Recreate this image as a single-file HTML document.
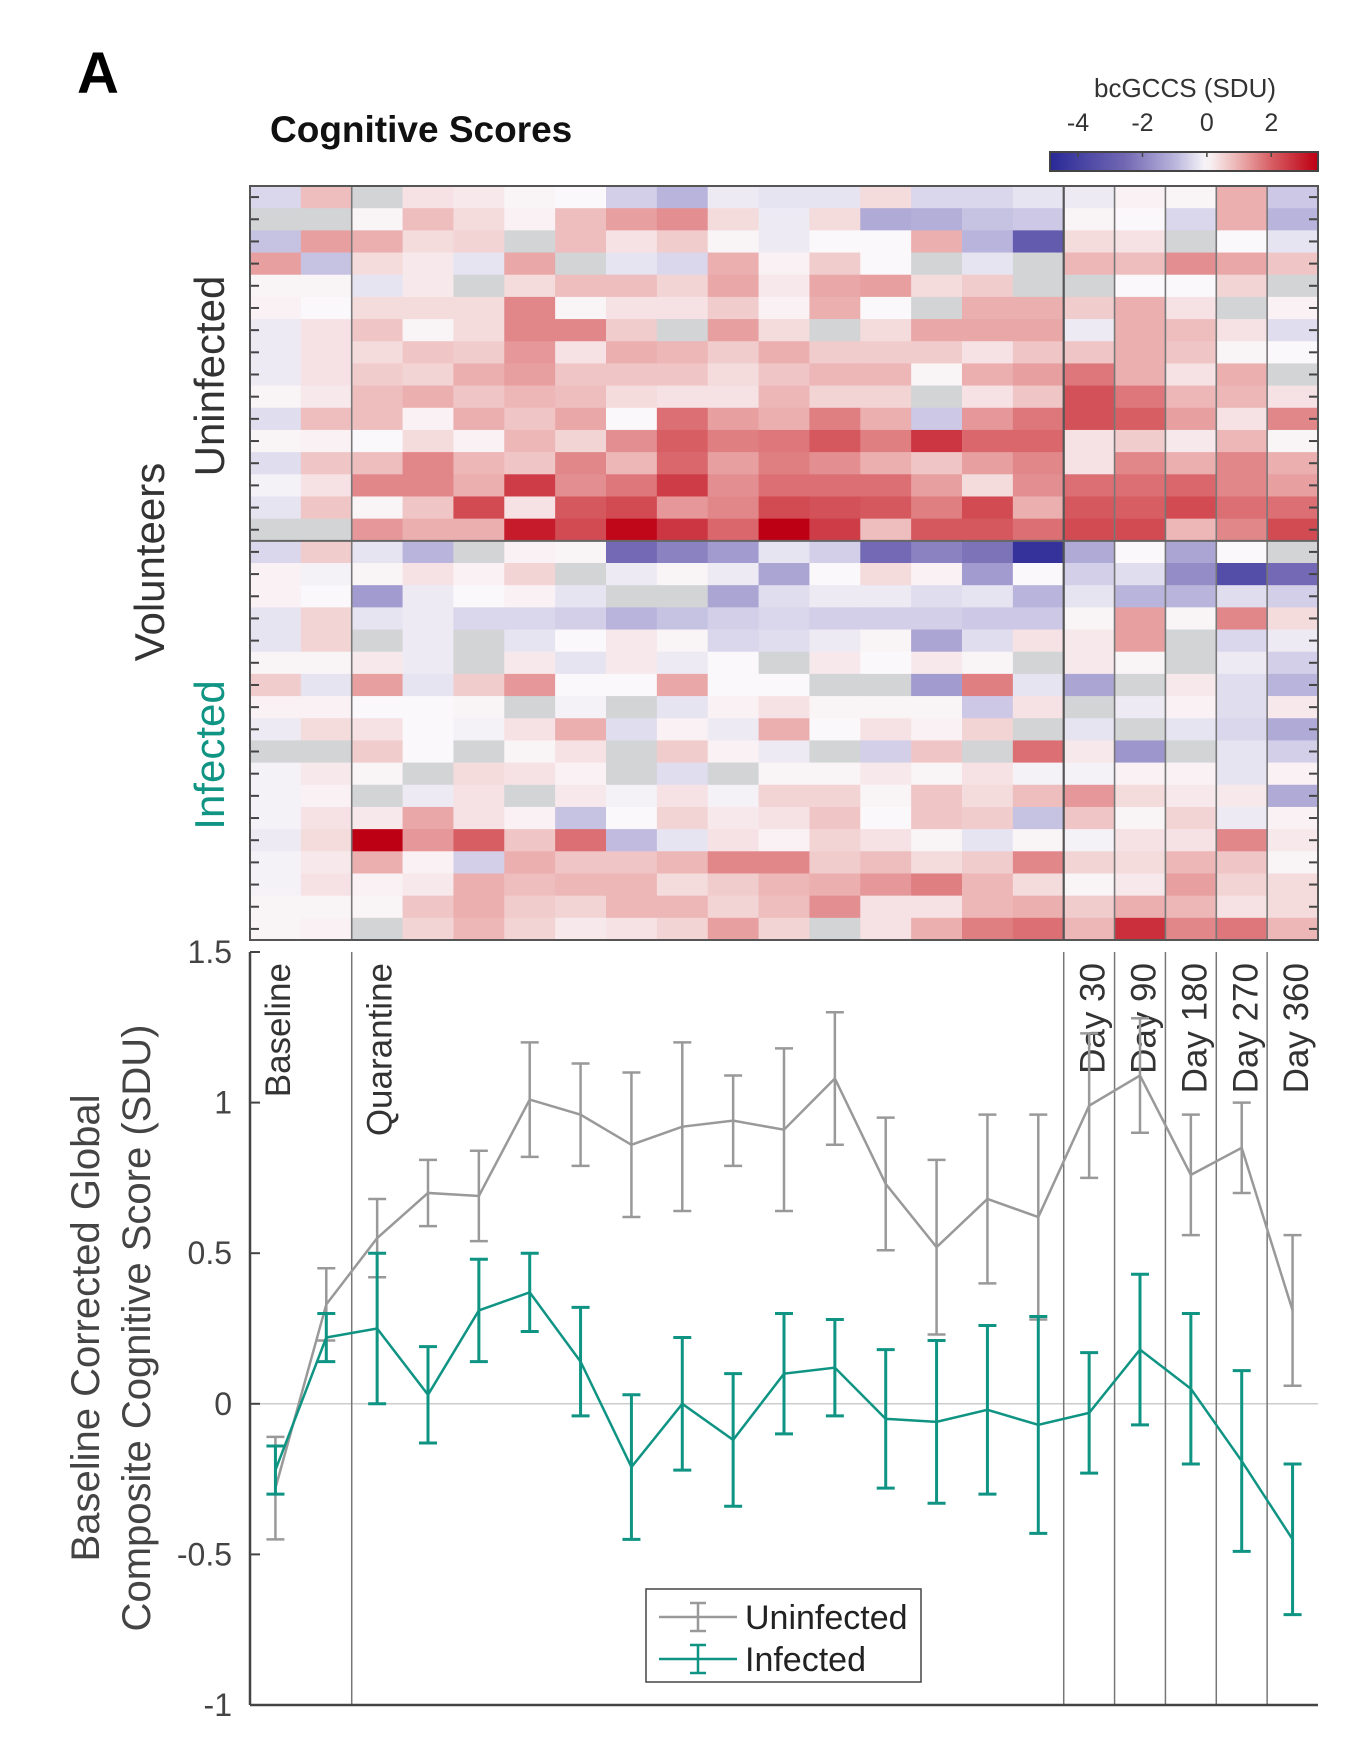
<!DOCTYPE html>
<html><head><meta charset="utf-8"><style>
html,body{margin:0;padding:0;background:#fff;}
svg{display:block;font-family:"Liberation Sans",sans-serif;}
</style></head><body>
<svg id="fig" width="1356" height="1762" viewBox="0 0 1356 1762" xmlns="http://www.w3.org/2000/svg">
<text x="77" y="93" font-size="58" font-weight="bold" fill="#000">A</text>
<text x="270" y="142" font-size="37" font-weight="bold" fill="#111">Cognitive Scores</text>
<text x="1185" y="97" font-size="26" fill="#333" text-anchor="middle">bcGCCS (SDU)</text>
<g id="cbar"></g>
<g id="heat"></g>
<g id="plot"></g>
<text transform="translate(164,562) rotate(-90)" font-size="42" fill="#333" text-anchor="middle">Volunteers</text>
<text transform="translate(224,376) rotate(-90)" font-size="42" fill="#333" text-anchor="middle">Uninfected</text>
<text transform="translate(224,755) rotate(-90)" font-size="42" fill="#109483" text-anchor="middle">Infected</text>
<text transform="translate(99,1328) rotate(-90)" font-size="40" fill="#444" text-anchor="middle">Baseline Corrected Global</text>
<text transform="translate(150,1328) rotate(-90)" font-size="40" fill="#444" text-anchor="middle">Composite Cognitive Score (SDU)</text>
</svg>
<script>
const heatUninf = [
[-0.5,0.8,null,0.3,0.2,0.05,0.0,-0.6,-1.0,-0.2,-0.3,-0.3,0.4,-0.5,-0.5,-0.3,-0.2,0.1,0.05,1.0,-0.7],
[null,null,0.05,0.8,0.4,0.1,0.8,1.2,1.4,0.4,-0.2,0.4,-1.2,-1.1,-0.8,-0.7,0.05,0.0,-0.5,1.0,-1.0],
[-0.8,1.2,1.0,0.4,0.5,null,0.8,0.3,0.6,0.05,-0.2,0.0,0.0,1.0,-1.0,-3.0,0.4,0.3,null,0.0,-0.3],
[1.2,-0.8,0.4,0.2,-0.3,1.1,null,-0.3,-0.5,1.0,0.1,0.6,0.0,null,-0.3,null,0.9,0.8,1.4,1.1,0.7],
[0.05,0.05,-0.3,0.2,null,0.4,0.8,0.8,0.5,1.1,0.2,1.1,1.2,0.4,0.6,null,null,0.0,0.0,0.5,null],
[0.1,0.0,0.4,0.4,0.4,1.5,0.05,0.3,0.3,0.6,0.1,1.0,0.0,null,1.0,1.0,0.6,1.0,0.3,null,0.1],
[-0.2,0.3,0.7,0.05,0.4,1.5,1.5,0.6,null,1.2,0.4,null,0.4,1.1,1.1,1.1,-0.2,1.0,0.8,0.3,-0.4],
[-0.2,0.3,0.4,0.7,0.6,1.3,0.3,1.0,0.9,0.6,1.0,0.6,0.6,0.6,0.3,0.7,0.7,1.0,0.7,0.05,0.0],
[-0.2,0.3,0.6,0.5,1.0,1.2,0.7,0.7,0.7,0.4,0.7,0.9,0.9,0.05,1.0,1.2,1.7,1.0,0.3,1.0,null],
[0.05,0.2,0.8,1.0,0.7,0.9,0.8,0.4,0.3,0.3,0.9,0.5,0.5,null,0.3,0.7,2.2,1.7,0.9,0.9,0.3],
[-0.4,0.8,0.8,0.1,1.0,0.7,1.1,0.0,1.8,1.2,1.0,1.6,1.0,-0.7,1.3,1.7,2.2,2.0,1.2,0.3,1.5],
[0.05,0.1,0.0,0.4,0.1,0.9,0.5,1.4,2.0,1.6,1.7,2.1,1.6,2.6,1.9,1.9,0.3,0.6,0.2,0.9,0.05],
[-0.4,0.7,0.8,1.5,0.9,0.7,1.5,0.9,1.9,1.2,1.6,1.4,1.0,0.7,1.2,1.5,0.3,1.5,1.0,1.5,1.0],
[-0.1,0.3,1.5,1.5,1.0,2.5,1.4,1.7,2.5,1.4,1.8,1.8,1.8,1.2,0.4,1.4,1.8,1.8,1.9,1.5,1.2],
[-0.3,0.7,0.05,0.7,2.3,0.3,2.1,2.3,1.3,1.5,2.3,2.2,2.1,1.6,2.3,1.0,2.1,2.0,2.3,1.8,1.8],
[null,null,1.3,1.0,1.0,3.0,2.3,3.3,2.6,1.9,3.4,2.5,0.8,2.1,2.1,1.8,2.3,2.3,0.9,1.5,2.3]
];
const heatInf = [
[-0.5,0.6,-0.3,-1.0,null,0.1,0.05,-2.5,-2.0,-1.5,-0.3,-0.6,-2.5,-2.0,-2.3,-4.5,-1.2,0.0,-1.3,0.0,null],
[0.1,-0.1,0.05,0.3,0.1,0.5,null,-0.2,0.05,-0.2,-1.3,0.0,0.4,0.1,-1.5,0.0,-0.6,-0.4,-1.8,-3.5,-2.5],
[0.1,0.0,-1.5,-0.2,0.0,0.1,-0.3,null,null,-1.3,-0.4,-0.2,-0.2,-0.4,-0.3,-1.0,-0.3,-1.0,-1.0,-0.4,-0.6],
[-0.3,0.5,-0.3,-0.2,-0.5,-0.5,-0.6,-1.0,-0.8,-0.6,-0.5,-0.6,-0.6,-0.6,-0.7,-0.7,0.05,1.2,0.05,1.5,0.4],
[-0.3,0.5,null,-0.2,null,-0.3,0.0,0.2,0.05,-0.5,-0.4,-0.2,0.05,-1.3,-0.4,0.3,0.2,1.2,null,-0.5,-0.2],
[0.05,0.05,0.2,-0.2,null,0.2,-0.3,0.2,-0.2,0.0,null,0.2,0.0,0.2,0.05,null,0.2,0.05,null,-0.2,-0.6],
[0.6,-0.3,1.2,-0.3,0.6,1.3,0.0,0.0,1.1,0.0,0.0,null,null,-1.5,1.6,-0.3,-1.3,null,0.2,-0.4,-1.0],
[0.1,0.1,0.0,0.0,0.05,null,-0.1,null,-0.3,0.1,0.3,0.05,0.05,0.05,-0.7,0.3,null,-0.2,0.1,-0.4,0.2],
[-0.2,0.4,0.3,0.0,-0.1,0.3,1.0,-0.4,0.1,-0.2,1.0,0.0,0.3,0.1,0.5,null,-0.3,null,-0.3,-0.5,-1.2],
[null,null,0.6,0.0,null,0.05,0.3,null,0.6,0.1,-0.2,null,-0.6,0.7,null,1.8,0.2,-1.6,null,-0.3,-0.6],
[-0.1,0.2,0.05,null,0.4,0.3,0.1,null,-0.4,null,0.05,0.05,0.2,0.05,0.3,-0.1,-0.1,0.1,0.1,-0.3,0.1],
[-0.1,0.1,null,-0.2,0.3,null,0.2,-0.1,0.3,-0.1,0.5,0.5,0.05,0.7,0.4,0.8,1.3,0.4,0.2,0.2,-1.2],
[-0.1,0.3,0.2,1.1,0.3,0.1,-0.8,0.0,0.5,0.2,0.3,0.7,0.0,0.7,0.6,-0.8,0.7,0.05,0.5,-0.2,0.1],
[-0.2,0.4,3.4,1.3,2.0,0.7,1.8,-0.9,-0.3,0.3,0.1,0.5,0.3,0.05,-0.3,0.05,-0.1,0.3,0.3,1.5,0.2],
[-0.1,0.2,1.0,0.1,-0.6,1.0,0.7,0.7,0.9,1.5,1.5,0.6,0.8,0.4,0.6,1.5,0.5,0.4,0.9,0.7,0.05],
[-0.1,0.3,0.1,0.2,1.0,0.8,0.9,0.9,0.4,0.6,0.9,1.0,1.3,1.6,0.9,0.4,0.05,0.2,1.2,0.5,0.4],
[0.05,0.05,0.05,0.7,1.0,0.6,0.5,0.9,0.9,0.5,0.8,1.4,0.3,0.3,0.9,1.0,0.6,1.0,0.9,0.3,0.4],
[0.05,0.1,null,0.5,0.9,0.5,0.2,0.3,0.5,1.2,0.5,null,0.3,1.0,1.6,1.8,0.9,2.7,1.5,1.7,0.9]
];
const uninfMean = [-0.28,0.33,0.55,0.70,0.69,1.01,0.96,0.86,0.92,0.94,0.91,1.08,0.73,0.52,0.68,0.62,0.99,1.09,0.76,0.85,0.31];
const uninfErr  = [0.17,0.12,0.13,0.11,0.15,0.19,0.17,0.24,0.28,0.15,0.27,0.22,0.22,0.29,0.28,0.34,0.24,0.19,0.20,0.15,0.25];
const infMean = [-0.22,0.22,0.25,0.03,0.31,0.37,0.14,-0.21,0.0,-0.12,0.10,0.12,-0.05,-0.06,-0.02,-0.07,-0.03,0.18,0.05,-0.19,-0.45];
const infErr  = [0.08,0.08,0.25,0.16,0.17,0.13,0.18,0.24,0.22,0.22,0.20,0.16,0.23,0.27,0.28,0.36,0.20,0.25,0.25,0.30,0.25];
const yTicks = [1.5,1,0.5,0,-0.5,-1];
const yTickLabels = ["1.5","1","0.5","0","-0.5","-1"];
const phaseLabels = ["Baseline","Quarantine","Day 30","Day 90","Day 180","Day 270","Day 360"];
const phaseCols = [0,2,16,17,18,19,20];
const cbarTicks = [-4,-2,0,2];

const NS="http://www.w3.org/2000/svg";
function mk(tag,attrs,parent){const e=document.createElementNS(NS,tag);for(const k in attrs)e.setAttribute(k,attrs[k]);parent.appendChild(e);return e;}
const stops=[[-4.9,[40,40,150]],[-2.5,[115,105,180]],[-1,[185,180,220]],[0,[250,248,250]],[1,[235,175,175]],[2,[215,95,100]],[3.4,[190,0,20]]];
function cmap(v){
  if(v===null) return "rgb(210,212,214)";
  if(v<=stops[0][0]) return "rgb("+stops[0][1].join(",")+")";
  for(let i=1;i<stops.length;i++){
    if(v<=stops[i][0]){const a=stops[i-1],b=stops[i];const t=(v-a[0])/(b[0]-a[0]);
      return "rgb("+[0,1,2].map(j=>Math.round(a[1][j]+t*(b[1][j]-a[1][j]))).join(",")+")";}
  }
  return "rgb("+stops[stops.length-1][1].join(",")+")";
}
const X0=250,X1=1318,NC=21,CW=(X1-X0)/NC;
const HY0=186,HY1=940;
const rows=heatUninf.concat(heatInf);
const RH=(HY1-HY0)/rows.length;
const colX=i=>X0+i*CW;
const colC=i=>X0+(i+0.5)*CW;
const cb=document.getElementById('cbar');
const CBX0=1050,CBX1=1318,CBMIN=-4.87,CBMAX=3.45;
const cbx=v=>CBX0+(v-CBMIN)/(CBMAX-CBMIN)*(CBX1-CBX0);
const defs=mk('defs',{},cb);
const lg=mk('linearGradient',{id:'cg',x1:'0',x2:'1',y1:'0',y2:'0'},defs);
for(let i=0;i<=40;i++){const v=CBMIN+(CBMAX-CBMIN)*i/40;mk('stop',{offset:(i/40),'stop-color':cmap(v)},lg);}
const cbr=mk('rect',{x:CBX0,y:152,width:CBX1-CBX0,height:19,fill:'url(#cg)',stroke:'#444','stroke-width':2},cb);


cbarTicks.forEach(t=>{
  const tx=mk('text',{x:cbx(t),y:131,'font-size':25,fill:'#333','text-anchor':'middle'},cb);tx.textContent=String(t);
  
  
  mk('line',{x1:cbx(t),x2:cbx(t),y1:153,y2:157,stroke:'#444','stroke-width':1.5},cb);
});
const hg=document.getElementById('heat');
rows.forEach((r,ri)=>{r.forEach((v,ci)=>{
  const c=mk('rect',{x:colX(ci),y:HY0+ri*RH,width:CW+0.6,height:RH+0.6,fill:cmap(v)},hg);
  
  
});});
[2,16,17,18,19,20].forEach(ci=>{mk('line',{x1:colX(ci),x2:colX(ci),y1:HY0,y2:HY1,stroke:ci===16?'#555':'#777','stroke-width':ci===16?2.2:1.6},hg);});
const sepY=HY0+heatUninf.length*RH;
mk('line',{x1:X0,x2:X1,y1:sepY,y2:sepY,stroke:'#666','stroke-width':2},hg);
for(let ri=0;ri<rows.length;ri++){const y=HY0+(ri+0.5)*RH;
  mk('line',{x1:X0,x2:X0+9,y1:y,y2:y,stroke:'#444','stroke-width':2},hg);
  mk('line',{x1:X1-9,x2:X1,y1:y,y2:y,stroke:'#444','stroke-width':2},hg);}
mk('rect',{x:X0,y:HY0,width:X1-X0,height:HY1-HY0,fill:'none',stroke:'#555','stroke-width':2},hg);
const pg=document.getElementById('plot');
const PY0=952,PY1=1705,YMIN=-1,YMAX=1.5;
const yS=v=>PY1-(v-YMIN)/(YMAX-YMIN)*(PY1-PY0);
mk('line',{x1:X0,x2:X1,y1:yS(0),y2:yS(0),stroke:'#ccc','stroke-width':1.5},pg);
[2,16,17,18,19,20].forEach(ci=>{mk('line',{x1:colX(ci),x2:colX(ci),y1:PY0,y2:PY1,stroke:'#777','stroke-width':1.5},pg);});
mk('line',{x1:X0,x2:X0,y1:PY0,y2:PY1,stroke:'#444','stroke-width':2.5},pg);
mk('line',{x1:X0,x2:X1,y1:PY1,y2:PY1,stroke:'#444','stroke-width':2.5},pg);
yTicks.forEach((t,i)=>{
  mk('line',{x1:X0,x2:X0+10,y1:yS(t),y2:yS(t),stroke:'#444','stroke-width':2},pg);
  const tx=mk('text',{x:232,y:yS(t)+11,'font-size':32,fill:'#444','text-anchor':'end'},pg);tx.textContent=yTickLabels[i];
  
  
});
phaseLabels.forEach((l,i)=>{
  const cx=colX(phaseCols[i])+ (i<2?28:29);
  const tx=mk('text',{transform:'translate('+(cx+12)+',963) rotate(-90)','font-size':35,fill:'#333','text-anchor':'end'},pg);tx.textContent=l;
  
  
});
function series(means,errs,color,name,w,cap){
  const g=mk('g',{},pg);
  
  
  const pts=means.map((m,i)=>colC(i)+','+yS(m)).join(' ');
  mk('polyline',{points:pts,fill:'none',stroke:color,'stroke-width':2.5},g);
  means.forEach((m,i)=>{const x=colC(i),a=yS(m+errs[i]),b=yS(m-errs[i]);
    const eb=mk('path',{d:'M'+x+' '+a+'V'+b+'M'+(x-cap)+' '+a+'H'+(x+cap)+'M'+(x-cap)+' '+b+'H'+(x+cap),stroke:color,'stroke-width':w,fill:'none'},g);
    
    
  });
}
series(uninfMean,uninfErr,'#999','uninfected',2.5,9);
series(infMean,infErr,'#0f9483','infected',3,9);
const lgG=mk('g',{},pg);


mk('rect',{x:646,y:1589,width:275,height:93,fill:'#fff',stroke:'#444','stroke-width':1.5},lgG);
[['Uninfected','#999',1617],['Infected','#0f9483',1659]].forEach(([t,c,y])=>{
  const e=mk('g',{},lgG);
  
  
  mk('path',{d:'M659 '+y+'H737M698 '+(y-14)+'V'+(y+14)+'M690 '+(y-14)+'H706M690 '+(y+14)+'H706',stroke:c,'stroke-width':2.5,fill:'none'},e);
  const tx=mk('text',{x:745,y:y+12,'font-size':34,fill:'#222'},e);tx.textContent=t;
});
</script>
</body></html>
